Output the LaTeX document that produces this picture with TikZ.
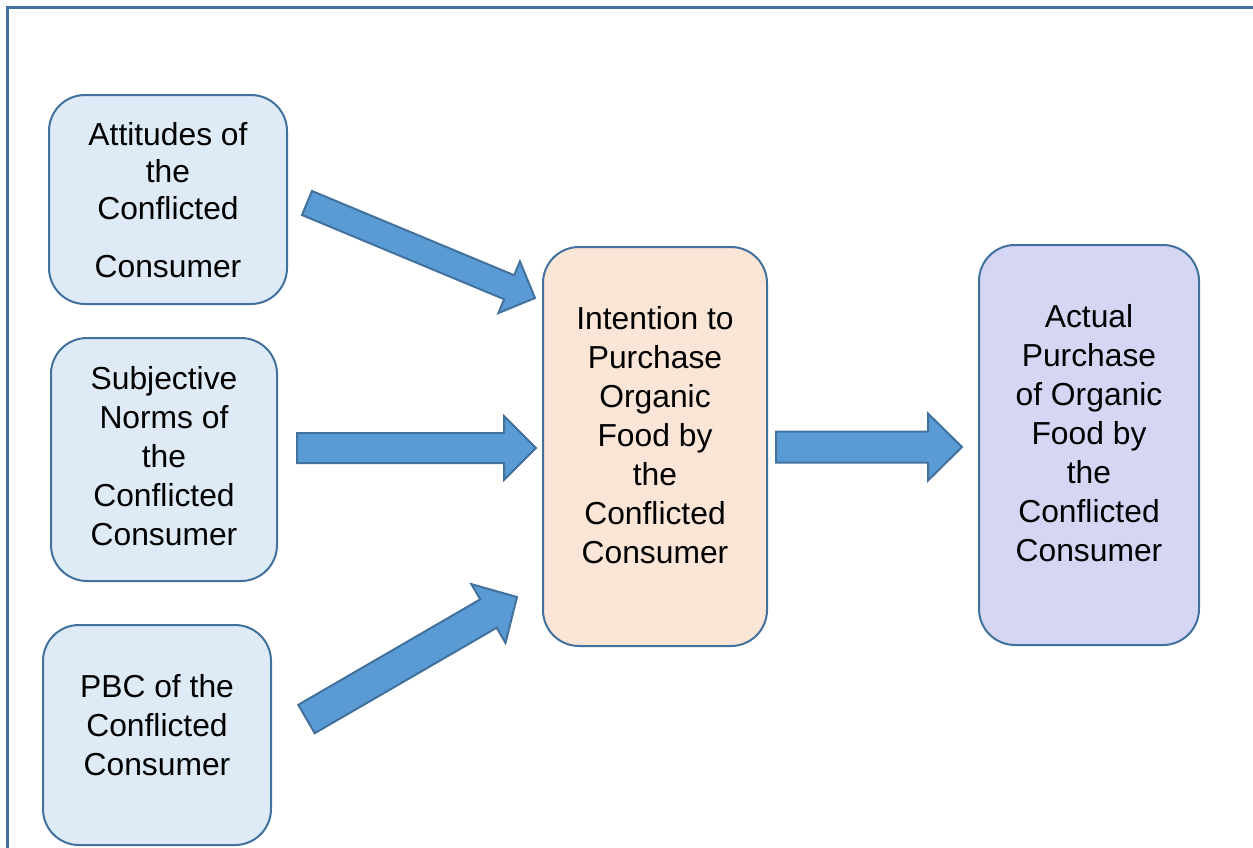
\documentclass[tikz,border=0pt]{standalone}
\usepackage{fontspec}
\setmainfont{Liberation Sans}
\usetikzlibrary{calc}
\definecolor{edge}{HTML}{41719C}
\definecolor{arrowfill}{HTML}{5B9BD5}
\definecolor{bluefill}{HTML}{DEEBF7}
\definecolor{peachfill}{HTML}{FBE5D6}
\definecolor{lilacfill}{HTML}{D5D6F3}
\newcommand{\blockarrow}[5]{%
  \coordinate (hb) at ($(#2)!#5!(#1)$);
  \draw[barrow] ($(#1)!#3!90:(#2)$) -- ($(hb)!#3!90:(#2)$) -- ($(hb)!#4!90:(#2)$) -- (#2)
    -- ($(hb)!#4!-90:(#2)$) -- ($(hb)!#3!-90:(#2)$) -- ($(#1)!#3!-90:(#2)$) -- cycle;}
\begin{document}
\begin{tikzpicture}[x=1pt,y=-1pt,
  box/.style={draw=edge, line width=2pt, rounded corners=36pt, inner sep=0pt},
  txt/.style={align=center, inner sep=0pt, anchor=north, font=\fontsize{31.8}{39}\selectfont},
  barrow/.style={draw=edge, line width=2pt, fill=arrowfill, line join=miter}]
\useasboundingbox (0,0) rectangle (1253,847);
\draw[edge, line width=3pt] (7,7) rectangle (1275,875);
% boxes
\node[box, fill=bluefill, minimum width=238pt, minimum height=209pt] (att) at (168,199.5) {};
\node[box, fill=bluefill, minimum width=226pt, minimum height=243pt] (sub) at (164,459.5) {};
\node[box, fill=bluefill, minimum width=228pt, minimum height=220pt] (pbc) at (157,735) {};
\node[box, fill=peachfill, minimum width=224pt, minimum height=399pt] (int) at (655,446.5) {};
\node[box, fill=lilacfill, minimum width=220pt, minimum height=400pt] (act) at (1089,445) {};
% texts
\node[txt, font=\fontsize{31.8}{37}\selectfont] (attT) at (168,122.5) {Attitudes of\\the\\Conflicted\\[21pt]Consumer};
\node[txt] (subT) at (164,366.5) {Subjective\\Norms of\\the\\Conflicted\\Consumer};
\node[txt] (pbcT) at (157,674.5) {PBC of the\\Conflicted\\Consumer};
\node[txt] (intT) at (655,306.5) {Intention to\\Purchase\\Organic\\Food by\\the\\Conflicted\\Consumer};
\node[txt] (actT) at (1089,304.5) {Actual\\Purchase\\of Organic\\Food by\\the\\Conflicted\\Consumer};
% block arrows
\coordinate (a1t) at (307,203);   \coordinate (a1h) at (535,298);
\coordinate (a2t) at (297,448);   \coordinate (a2h) at (536,448);
\coordinate (a3t) at (306.5,719); \coordinate (a3h) at (517,597);
\coordinate (a4t) at (776,447);   \coordinate (a4h) at (962,447);
\blockarrow{a1t}{a1h}{13pt}{28pt}{28pt}
\blockarrow{a2t}{a2h}{15pt}{32pt}{32pt}
\blockarrow{a3t}{a3h}{16.4pt}{34pt}{33pt}
\blockarrow{a4t}{a4h}{15.5pt}{33.5pt}{34pt}
\end{tikzpicture}
\end{document}
